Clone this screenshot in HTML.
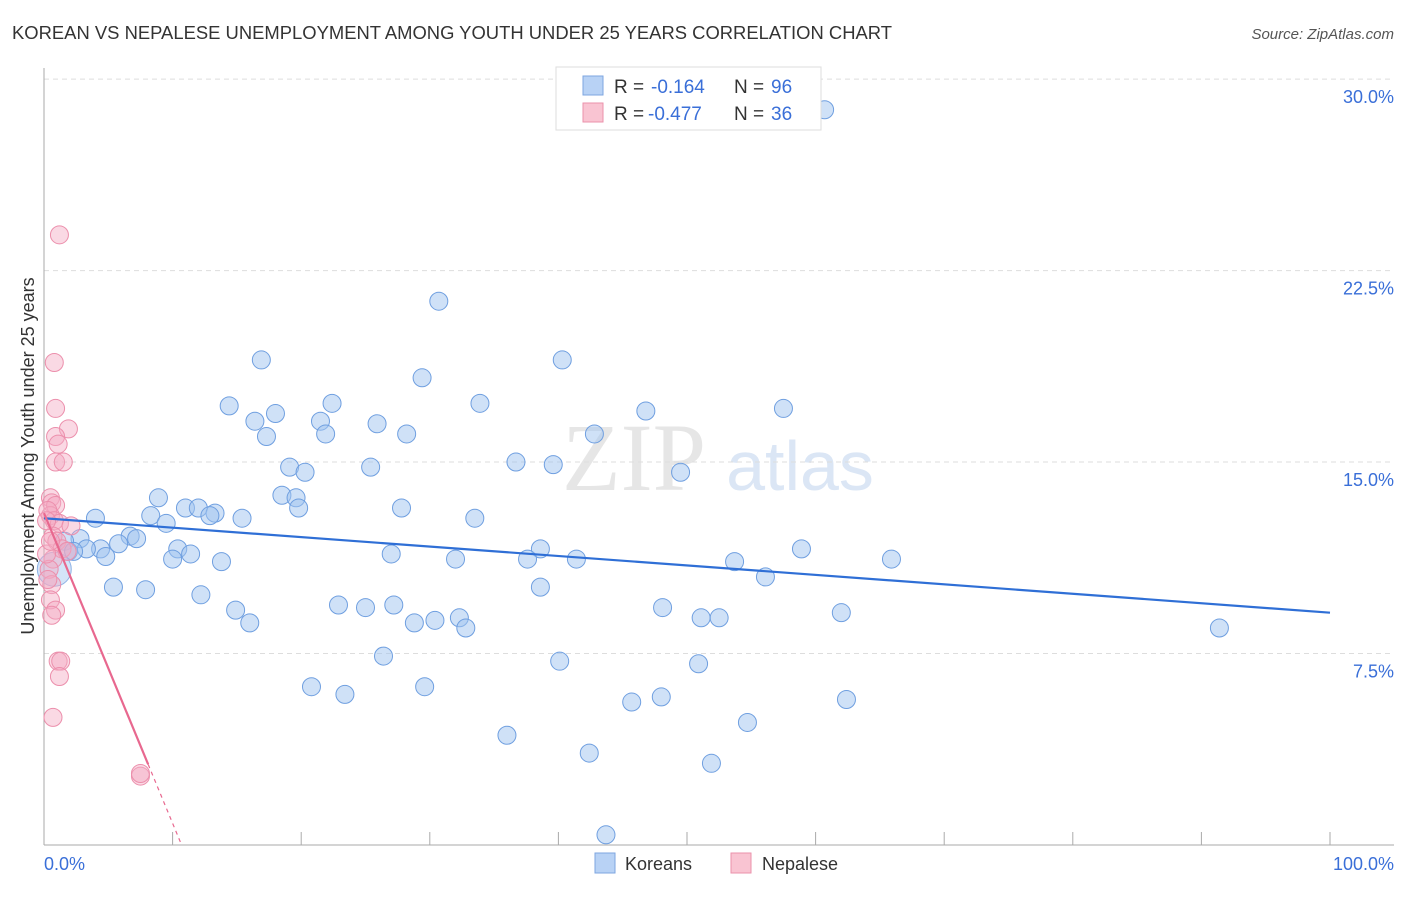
<!DOCTYPE html>
<html><head><meta charset="utf-8"><style>
body{margin:0;background:#fff;font-family:"Liberation Sans",sans-serif}
</style></head><body>
<svg id="c" width="1406" height="892" xmlns="http://www.w3.org/2000/svg">
<text x="12" y="39" font-size="18" fill="#333" textLength="880" lengthAdjust="spacingAndGlyphs">KOREAN VS NEPALESE UNEMPLOYMENT AMONG YOUTH UNDER 25 YEARS CORRELATION CHART</text>
<text x="1394" y="39" font-size="15" fill="#555" text-anchor="end" font-style="italic">Source: ZipAtlas.com</text>
<text x="634" y="490" font-size="96" fill="#e6e6e6" text-anchor="middle" font-family="Liberation Serif,serif">ZIP</text>
<text x="800" y="490" font-size="70" fill="#dbe6f5" text-anchor="middle">atlas</text>
<g id="grid"></g><g id="pts"></g><g id="trend"></g>
<text transform="translate(34,456) rotate(-90)" font-size="18" fill="#333" text-anchor="middle">Unemployment Among Youth under 25 years</text>
<text x="44" y="870" font-size="18" fill="#3a6fd8">0.0%</text>
<text x="1394" y="870" font-size="18" fill="#3a6fd8" text-anchor="end">100.0%</text>
<g>
<rect x="556" y="67" width="265" height="63" fill="#fff" stroke="#ddd"/>
<rect x="583" y="76" width="20" height="19" fill="#b8d2f5" stroke="#7ea6e0"/>
<rect x="583" y="103" width="20" height="19" fill="#f9c4d2" stroke="#eb92ab"/>
<text x="614" y="93" font-size="19" fill="#333">R =</text>
<text x="651" y="93" font-size="19" fill="#3a6fd8">-0.164</text>
<text x="734" y="93" font-size="19" fill="#333">N =</text>
<text x="771" y="93" font-size="19" fill="#3a6fd8">96</text>
<text x="614" y="120" font-size="19" fill="#333">R =</text>
<text x="648" y="120" font-size="19" fill="#3a6fd8">-0.477</text>
<text x="734" y="120" font-size="19" fill="#333">N =</text>
<text x="771" y="120" font-size="19" fill="#3a6fd8">36</text>
</g>
<g>
<rect x="595" y="853" width="20" height="20" fill="#b8d2f5" stroke="#7ea6e0"/>
<text x="625" y="870" font-size="18" fill="#333">Koreans</text>
<rect x="731" y="853" width="20" height="20" fill="#f9c4d2" stroke="#eb92ab"/>
<text x="762" y="870" font-size="18" fill="#333">Nepalese</text>
</g>
</svg>
<script>
const koreanX=[60.7,30.7,16.9,40.3,29.4,14.4,33.9,22.4,18.0,46.8,57.5,16.4,21.5,25.9,17.3,21.9,28.2,42.8,19.1,20.3,25.4,36.7,39.6,49.5,18.5,19.6,19.8,8.9,11.0,12.0,13.3,12.9,27.8,33.5,4.0,8.3,9.5,15.4,6.7,7.2,2.8,1.6,5.8,10.4,11.4,10.0,4.4,3.3,1.9,2.3,4.8,38.6,37.6,41.4,27.0,32.0,53.7,58.9,65.9,13.8,56.1,5.4,7.9,38.6,12.2,14.9,22.9,25.0,27.2,16.0,28.8,30.4,32.3,32.8,48.1,51.1,52.5,62.0,91.4,26.4,40.1,50.9,20.8,23.4,29.6,45.7,48.0,62.4,54.7,36.0,42.4,51.9,43.7];
const koreanY=[28.8,21.3,19.0,19.0,18.3,17.2,17.3,17.3,16.9,17.0,17.1,16.6,16.6,16.5,16.0,16.1,16.1,16.1,14.8,14.6,14.8,15.0,14.9,14.6,13.7,13.6,13.2,13.6,13.2,13.2,13.0,12.9,13.2,12.8,12.8,12.9,12.6,12.8,12.1,12.0,12.0,11.9,11.8,11.6,11.4,11.2,11.6,11.6,11.5,11.5,11.3,11.6,11.2,11.2,11.4,11.2,11.1,11.6,11.2,11.1,10.5,10.1,10.0,10.1,9.8,9.2,9.4,9.3,9.4,8.7,8.7,8.8,8.9,8.5,9.3,8.9,8.9,9.1,8.5,7.4,7.2,7.1,6.2,5.9,6.2,5.6,5.8,5.7,4.8,4.3,3.6,3.2,0.4];
const nepalX=[1.2,0.8,0.9,1.9,0.9,1.1,0.9,1.5,0.5,0.6,0.9,0.5,0.3,0.8,1.2,2.1,0.7,1.0,1.4,1.8,0.7,0.4,0.6,0.5,0.9,0.6,1.1,1.3,1.2,0.7,7.5,7.5,0.2,0.2,0.3,0.5];
const nepalY=[23.9,18.9,17.1,16.3,16.0,15.7,15.0,15.0,13.6,13.4,13.3,12.9,13.1,12.7,12.6,12.5,12.1,11.9,11.6,11.5,11.2,10.8,10.2,9.6,9.2,9.0,7.2,7.2,6.6,5.0,2.7,2.8,12.7,11.4,10.4,11.9];
const koreanTrend=[12.8,9.1];
const nepalTrend=[13.0,0];
const yTicks=[7.5,15,22.5,30];
const yTickLabels=["7.5%","15.0%","22.5%","30.0%"];
const NS="http://www.w3.org/2000/svg";
const sx=v=>44+v*12.86, sy=v=>845-v*25.53;
function mk(t,a,p){const e=document.createElementNS(NS,t);for(const k in a)e.setAttribute(k,a[k]);p.appendChild(e);return e;}
const g=document.getElementById('grid');
yTicks.forEach((t,i)=>{
 const l=mk('line',{x1:44,x2:1394,y1:sy(t),y2:sy(t),stroke:'#ddd','stroke-dasharray':'5,4'},g);
 
 
 const tx=mk('text',{x:1394,y:sy(t)+24,'font-size':18,fill:'#3a6fd8','text-anchor':'end'},g);
 tx.textContent=yTickLabels[i];
 
 
});
const ax=mk('line',{x1:44,x2:44,y1:68,y2:845,stroke:'#aaa'},g);


const bx=mk('line',{x1:44,x2:1394,y1:845,y2:845,stroke:'#aaa'},g);


for(let i=1;i<=10;i++){
 const t=mk('line',{x1:sx(i*10),x2:sx(i*10),y1:832,y2:845,stroke:'#aaa'},g);
 
 
}
const p=document.getElementById('pts');
koreanX.forEach((x,i)=>{
 const c=mk('circle',{cx:sx(x),cy:sy(koreanY[i]),r:9,fill:'rgba(160,195,240,0.5)',stroke:'#6f9fe0','stroke-width':1},p);
 
 
});
const big=mk('circle',{cx:sx(0.8),cy:sy(10.8),r:17,fill:'rgba(160,195,240,0.45)',stroke:'#8fb3e6'},p);


nepalX.forEach((x,i)=>{
 const c=mk('circle',{cx:sx(x),cy:sy(nepalY[i]),r:9,fill:'rgba(245,170,195,0.45)',stroke:'#ec8fac','stroke-width':1},p);
 
 
});
const tr=document.getElementById('trend');
const kl=mk('line',{x1:sx(0),y1:sy(koreanTrend[0]),x2:sx(100),y2:sy(koreanTrend[1]),stroke:'#2f6fd6','stroke-width':2.2},tr);


const nx0=0,nx1=8.1,nxEnd=10.7;
const ny=x=>nepalTrend[0]+(nepalTrend[1]-nepalTrend[0])*x/nxEnd;
const nl=mk('line',{x1:sx(nx0),y1:sy(ny(nx0)),x2:sx(nx1),y2:sy(ny(nx1)),stroke:'#e8688f','stroke-width':2.2},tr);


const nd=mk('line',{x1:sx(nx1),y1:sy(ny(nx1)),x2:sx(nxEnd),y2:sy(ny(nxEnd)),stroke:'#e8688f','stroke-width':1.2,'stroke-dasharray':'4,4'},tr);


</script>
</body></html>
